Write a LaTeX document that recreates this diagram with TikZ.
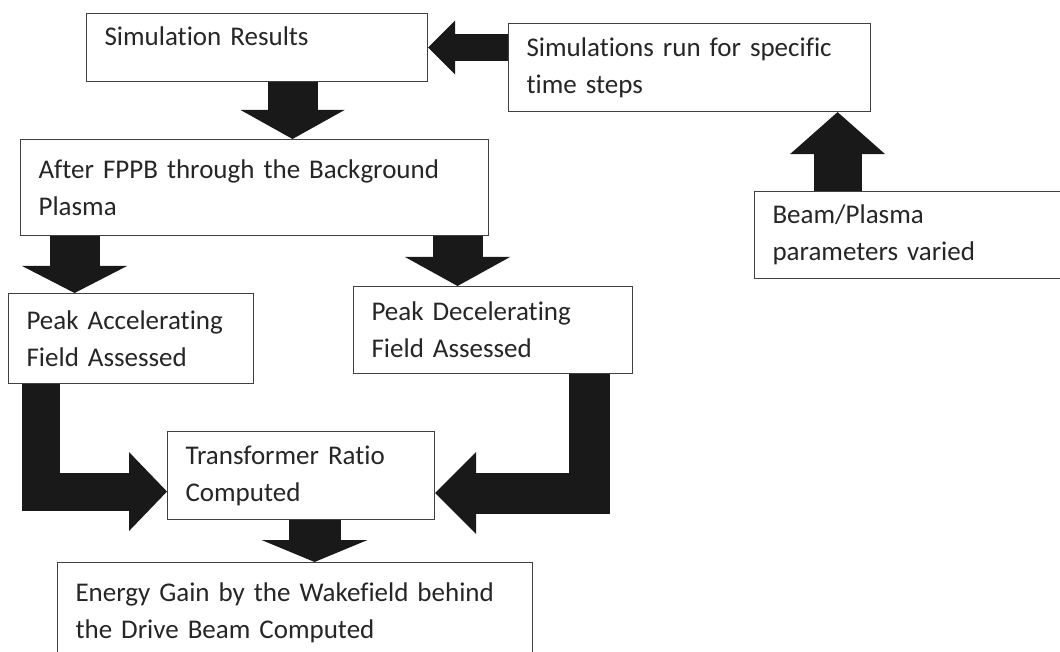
\documentclass[tikz,border=0pt]{standalone}
\usepackage{fontspec}
\setmainfont{Carlito}[Ligatures=NoCommon]
\usetikzlibrary{arrows.meta}

\tikzset{
  box/.style={draw=black!75, line width=1.1pt, fill=white, text=black!85,
    anchor=north west, inner xsep=18pt, inner ysep=0pt, align=left,
    font=\fontsize{27}{37}\selectfont},
  fat/.style n args={3}{draw=black!90, line width=#1,
    -{Triangle[length=#2, width=#3, line width=0pt]}},
}

\begin{document}
\begin{tikzpicture}[x=1pt, y=-1pt]
\useasboundingbox (0,0) rectangle (1060,652);
\clip (0,0) rectangle (1060,652);

\node [box, text width=305pt, minimum height=68pt, text height=18pt, text depth=22pt]
      (results) at (86,13)  {Simulation Results};
\node [box, text width=326pt, minimum height=88pt]
      (runs)    at (508,23) {Simulations run for specific\\ time steps};
\node [box, text width=432pt, minimum height=96pt]
      (fppb)    at (20,139) {After FPPB through the Background\\ Plasma};
\node [box, text width=294pt, minimum height=87pt]
      (params)  at (754,191) {Beam/Plasma\\ parameters varied};
\node [box, text width=209pt, minimum height=90pt]
      (accel)   at (8,293)  {Peak Accelerating\\ Field Assessed};
\node [box, text width=243pt, minimum height=87pt]
      (decel)   at (353,286) {Peak Decelerating\\ Field Assessed};
\node [box, text width=231pt, minimum height=88pt]
      (ratio)   at (167,431) {Transformer Ratio\\ Computed};
\node [box, text width=439pt, minimum height=100pt]
      (gain)    at (57,562) {Energy Gain by the Wakefield behind\\ the Drive Beam Computed};

\draw [fat={27pt}{27pt}{54pt}] (runs.west |- results.east) -- (results.east);
\draw [fat={48pt}{42pt}{95pt}] ([xshift=-82pt]params.north) -- ([xshift=-82pt]params.north |- runs.south);
\draw [fat={50pt}{29pt}{104pt}] ([xshift=35.5pt]results.south) -- ([xshift=35.5pt]results.south |- fppb.north);
\draw [fat={50pt}{27pt}{105pt}] ([xshift=-180pt]fppb.south) -- ([xshift=-180pt]fppb.south |- accel.north);
\draw [fat={50pt}{29pt}{105pt}] ([xshift=203pt]fppb.south) -- ([xshift=203pt]fppb.south |- decel.north);
\draw [fat={38pt}{38pt}{79pt}] ([xshift=-90.5pt]accel.south) |- ([yshift=-16pt]ratio.west);
\draw [fat={41pt}{41pt}{82pt}] ([xshift=96pt]decel.south) |- ([yshift=-17.5pt]ratio.east);
\draw [fat={52pt}{22pt}{106pt}] ([xshift=13.5pt]ratio.south) -- ([xshift=13.5pt]ratio.south |- gain.north);
\end{tikzpicture}
\end{document}
